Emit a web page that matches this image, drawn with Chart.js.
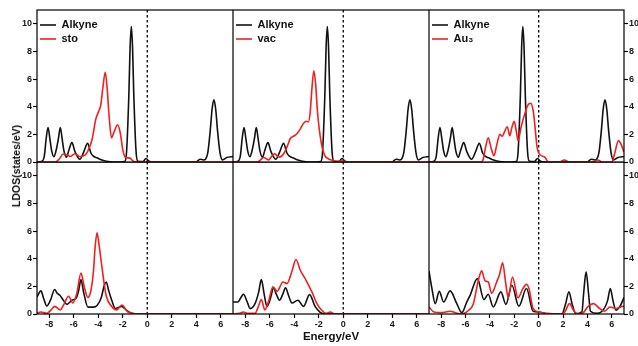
<!DOCTYPE html>
<html>
<head>
<meta charset="utf-8">
<script src="https://cdn.jsdelivr.net/npm/chart.js@4"></script>
<style>
  body { margin: 0; background: #fff; }
  #wrap { position: relative; width: 638px; height: 346px; overflow: hidden; background: #fff; }
  #wrap canvas { position: absolute; }
  #ylab {
    position: absolute; left: 16px; top: 166px;
    transform: translate(-50%, -50%) rotate(-90deg);
    font: bold 10.5px "Liberation Sans", Arial, sans-serif; color: #111; white-space: nowrap;
  }
</style>
</head>
<body>
<div id="wrap">
  <canvas id="c0" width="233" height="172" style="left:0;top:0"></canvas>
  <canvas id="c1" width="196" height="172" style="left:233px;top:0"></canvas>
  <canvas id="c2" width="209" height="172" style="left:429px;top:0"></canvas>
  <canvas id="c3" width="233" height="184" style="left:0;top:162px"></canvas>
  <canvas id="c4" width="196" height="184" style="left:233px;top:162px"></canvas>
  <canvas id="c5" width="209" height="184" style="left:429px;top:162px"></canvas>
  <div id="ylab">LDOS(states/eV)</div>
</div>
<script>
// tick labels shown on the axes
const energyTicks = [-8, -6, -4, -2, 0, 2, 4, 6];
const dosTicks = [0, 2, 4, 6, 8, 10];

// legend names
const blackName = 'Alkyne';
const redNames = ['sto', 'vac', 'Au\u2083'];

// [energy (eV), LDOS]
// top row: alkyne (same in all three panels)
const topAlkyne = [[-9,0],[-8.6,0.05],[-8.4,0.45],[-8.25,1.7],[-8.1,2.5],[-7.95,1.7],[-7.8,0.8],[-7.62,0.38],[-7.45,0.8],[-7.25,1.7],[-7.1,2.5],[-6.95,1.7],[-6.8,0.8],[-6.6,0.35],[-6.4,0.85],[-6.15,1.4],[-5.9,0.75],[-5.5,0.2],[-5.2,0.7],[-4.87,1.35],[-4.6,0.65],[-4.4,0.42],[-4.1,0.3],[-3.7,0.15],[-3.2,0.04],[-2.2,0],[-1.85,0.03],[-1.7,0.6],[-1.5,4.9],[-1.4,8.3],[-1.3,9.8],[-1.2,8.3],[-1.1,4.9],[-0.9,0.6],[-0.75,0.05],[-0.35,0.03],[-0.1,0.25],[0.15,0.05],[0.5,0],[4.0,0],[4.3,0.2],[4.6,0.15],[4.94,0.66],[5.14,2.25],[5.29,3.8],[5.44,4.5],[5.59,3.8],[5.74,2.25],[5.94,0.66],[6.14,0.15],[6.5,0.32],[7,0.4]];
const topSto = [[-9,0],[-7.5,0],[-7.2,0.2],[-6.85,0.58],[-6.5,0.5],[-6.3,0.4],[-5.9,0.6],[-5.5,0.4],[-5.3,0.42],[-4.97,0.6],[-4.7,1.1],[-4.5,1.65],[-4.2,3.1],[-3.95,3.7],[-3.8,4.1],[-3.62,5.4],[-3.43,6.5],[-3.28,5.4],[-3.12,3.4],[-2.92,1.75],[-2.7,2.2],[-2.42,2.7],[-2.2,2.1],[-2.0,0.9],[-1.8,0.35],[-1.6,0.3],[-1.4,0.28],[-1.2,0.1],[-1.0,0.02],[-0.6,0],[7,0]];
const topVac = [[-9,0],[-7.0,0],[-6.75,0.15],[-6.5,0.33],[-6.1,0.15],[-5.85,0.4],[-5.6,0.6],[-5.4,0.45],[-5.2,0.35],[-4.95,0.5],[-4.73,0.8],[-4.5,1.3],[-4.33,1.7],[-4.0,1.9],[-3.78,2.05],[-3.5,2.4],[-3.24,2.8],[-3.0,2.95],[-2.85,2.9],[-2.7,3.6],[-2.55,5.4],[-2.4,6.6],[-2.25,5.6],[-2.1,3.6],[-1.8,1.4],[-1.53,0.5],[-1.25,0.25],[-1.0,0.15],[-0.5,0.05],[-0.1,0.08],[0.3,0],[7,0]];
const topAu3 = [[-9,0],[-4.75,0],[-4.55,0.2],[-4.35,1.1],[-4.14,1.75],[-3.9,1.0],[-3.67,0.45],[-3.45,1.2],[-3.18,2.0],[-3.0,1.85],[-2.8,2.2],[-2.58,2.55],[-2.37,1.9],[-2.2,2.5],[-2.01,2.95],[-1.85,2.3],[-1.69,1.55],[-1.45,2.5],[-1.14,3.5],[-0.9,4.1],[-0.65,4.25],[-0.45,3.7],[-0.33,2.8],[-0.2,1.6],[-0.12,1.0],[0.08,0.55],[0.5,0.35],[0.8,0.02],[1.7,0],[2.1,0.15],[2.5,0],[4.4,0],[4.85,0.15],[5.2,0],[6.0,0],[6.2,0.5],[6.55,1.55],[6.8,1.2],[7,0.7]];

// bottom row
const botStoBlack = [[-9,1.23],[-8.68,1.67],[-8.45,1.1],[-8.2,0.58],[-7.9,1.0],[-7.56,1.77],[-7.35,1.5],[-7.15,1.37],[-6.85,1.0],[-6.56,0.7],[-6.15,1.0],[-5.8,1.15],[-5.6,1.7],[-5.41,2.49],[-5.2,1.6],[-4.84,0.5],[-4.4,0.5],[-4.1,0.62],[-3.75,1.2],[-3.5,2.1],[-3.35,2.32],[-3.15,1.7],[-2.9,1.0],[-2.6,0.4],[-2.1,0.55],[-1.66,0.25],[-1.25,0.05],[-0.8,0],[7,0]];
const botStoRed = [[-9,0.05],[-8.7,0.15],[-8.2,0.05],[-7.85,0.3],[-7.56,0.55],[-7.1,0.3],[-6.8,0.7],[-6.42,1.28],[-6.07,0.8],[-5.75,1.5],[-5.41,2.97],[-5.15,2.0],[-4.85,1.19],[-4.6,1.7],[-4.4,3.0],[-4.25,4.9],[-4.1,5.87],[-3.95,5.1],[-3.7,3.4],[-3.5,2.1],[-3.35,1.3],[-2.9,0.55],[-2.5,0.3],[-2.07,0.65],[-1.6,0.15],[-1.25,0.05],[-0.8,0],[7,0]];
const botVacBlack = [[-9,0.87],[-8.6,0.87],[-8.35,1.2],[-8.14,1.43],[-7.85,0.9],[-7.6,0.39],[-7.2,0.75],[-6.9,1.6],[-6.69,2.49],[-6.45,1.4],[-6.23,0.55],[-5.95,1.1],[-5.69,1.89],[-5.45,1.4],[-5.2,1.0],[-4.95,1.4],[-4.71,1.89],[-4.45,1.3],[-4.19,0.8],[-3.7,1.0],[-3.24,0.55],[-2.75,1.4],[-2.3,0.55],[-1.88,0.12],[-1.5,0],[7,0]];
const botVacRed = [[-9,0],[-8.5,0.05],[-8.14,0.15],[-7.8,0.05],[-7.2,0.05],[-6.95,0.5],[-6.69,1.04],[-6.4,0.3],[-6.1,0.9],[-5.74,1.96],[-5.4,1.65],[-4.92,2.32],[-4.6,2.2],[-4.19,3.1],[-3.86,3.94],[-3.5,3.15],[-3.1,2.55],[-2.56,1.6],[-2.15,0.75],[-1.75,0.27],[-1.4,0.05],[-1.06,0.15],[-0.7,0],[7,0]];
const botAu3Black = [[-9,3.1],[-8.76,1.84],[-8.49,0.75],[-8.16,1.64],[-7.8,0.87],[-7.27,1.67],[-6.72,0.75],[-6.31,0.1],[-5.9,0.87],[-5.63,1.35],[-5.03,2.56],[-4.49,1.04],[-4.14,1.43],[-3.73,0.51],[-3.1,1.6],[-2.69,0.7],[-2.2,2.08],[-1.63,0.56],[-1.0,1.84],[-0.46,0.2],[0,0.15],[0.4,0.08],[0.7,0],[1.9,0],[2.2,0.7],[2.48,1.6],[2.75,0.7],[3.05,0],[3.55,0.15],[3.69,1.5],[3.89,3.05],[4.09,1.5],[4.25,0.2],[4.8,0.05],[5.3,0.3],[5.65,0.95],[5.88,1.84],[6.1,0.95],[6.34,0.27],[6.7,0.6],[7,1.2]];
const botAu3Red = [[-9,0.51],[-8.6,0.15],[-8.0,0.1],[-7.27,0.2],[-6.72,0.05],[-6.31,0],[-5.77,0.25],[-5.36,0.75],[-4.95,2.44],[-4.68,3.12],[-4.4,2.4],[-4.14,2.32],[-3.86,1.5],[-3.45,2.32],[-3.2,2.9],[-2.96,3.7],[-2.7,2.2],[-2.5,1.18],[-2.15,2.68],[-1.7,1.18],[-1.3,1.84],[-1.0,2.15],[-0.8,1.84],[-0.46,0.4],[0,0.15],[0.7,0.05],[1.5,0],[2.1,0.1],[2.53,0.75],[2.9,0.2],[3.3,0.02],[3.6,0.05],[4.0,0.5],[4.49,0.75],[5.0,0.4],[5.4,0.2],[5.86,0.51],[6.34,0.4],[6.9,0.55],[7,0.55]];

const BLACK = '#111111';
const RED = '#ee2020';
const FONT = '"Liberation Sans", Arial, sans-serif';

// frame around each panel and the dotted Fermi level line
const framePlugin = {
  id: 'frame',
  beforeDatasetsDraw(chart) {
    const {ctx, chartArea: a, scales} = chart;
    const x0 = scales.x.getPixelForValue(0);
    ctx.save();
    ctx.strokeStyle = '#000';
    ctx.lineWidth = 1.3;
    ctx.setLineDash([2.5, 2.5]);
    ctx.beginPath();
    ctx.moveTo(x0, a.top);
    ctx.lineTo(x0, a.bottom);
    ctx.stroke();
    ctx.restore();
  },
  afterDatasetsDraw(chart) {
    const {ctx, chartArea: a} = chart;
    ctx.save();
    ctx.strokeStyle = '#000';
    ctx.lineWidth = 1.2;
    ctx.strokeRect(a.left, a.top, a.width, a.height);
    ctx.restore();
  }
};

function toXY(pairs) {
  return pairs.map(p => ({x: p[0], y: p[1]}));
}

function makePanel(id, col, row, black, red, redName) {
  const tickFont = {family: FONT, size: 9, weight: 'bold'};
  return new Chart(document.getElementById(id), {
    type: 'line',
    data: {
      datasets: [
        {label: blackName, data: toXY(black), borderColor: BLACK, backgroundColor: BLACK, borderWidth: 1.6, order: 1},
        {label: redName, data: toXY(red), borderColor: RED, backgroundColor: RED, borderWidth: 1.6, order: 0}
      ]
    },
    options: {
      responsive: false,
      animation: false,
      devicePixelRatio: 1,
      parsing: false,
      layout: {padding: row === 0 ? {top: 10, bottom: 10, left: 0, right: 0} : 0},
      elements: {
        line: {cubicInterpolationMode: 'monotone', fill: false},
        point: {radius: 0, hoverRadius: 0}
      },
      scales: {
        x: {
          type: 'linear', min: -9, max: 7,
          display: row === 1,
          ticks: {
            stepSize: 1, autoSkip: false, maxRotation: 0, padding: 1,
            font: tickFont, color: '#1a1a1a',
            callback: v => energyTicks.includes(v) ? String(v) : ''
          },
          grid: {
            drawOnChartArea: false, tickLength: 4, tickWidth: 1.2,
            tickColor: c => (c.tick && energyTicks.includes(c.tick.value)) ? '#000' : 'rgba(0,0,0,0)'
          },
          border: {display: false},
          title: {
            display: row === 1 && col === 1,
            text: 'Energy/eV',
            font: {family: FONT, size: 11.5, weight: 'bold'},
            color: '#111',
            padding: {top: 0, bottom: 2}
          },
          afterFit: s => {
            if (row === 1) s.height = 32;
            s.paddingLeft = 0; s.paddingRight = 0;
          }
        },
        y: {
          type: 'linear', min: 0, max: 11,
          position: col === 2 ? 'right' : 'left',
          display: col !== 1,
          ticks: {
            stepSize: 1, autoSkip: false, padding: 1,
            font: tickFont, color: '#1a1a1a',
            callback: v => dosTicks.includes(v) ? String(v) : ''
          },
          grid: {
            drawOnChartArea: false, tickLength: 4, tickWidth: 1.2,
            tickColor: c => (c.tick && dosTicks.includes(c.tick.value)) ? '#000' : 'rgba(0,0,0,0)'
          },
          border: {display: false},
          afterFit: s => {
            if (col === 0) s.width = 37;
            if (col === 2) s.width = 14;
            s.paddingTop = 0; s.paddingBottom = 0;
          }
        }
      },
      plugins: {
        tooltip: {enabled: false},
        legend: {
          display: row === 0,
          position: 'chartArea',
          align: 'start',
          title: {display: true, text: '', padding: {top: 15.5, bottom: 0}, font: {size: 1, lineHeight: 1}},
          labels: {
            usePointStyle: true, pointStyle: 'line', pointStyleWidth: 16,
            padding: 3, color: '#111',
            font: {family: FONT, size: 11, weight: 'bold'},
            sort: (a, b) => a.datasetIndex - b.datasetIndex
          }
        }
      }
    },
    plugins: [framePlugin]
  });
}

makePanel('c0', 0, 0, topAlkyne, topSto, redNames[0]);
makePanel('c1', 1, 0, topAlkyne, topVac, redNames[1]);
makePanel('c2', 2, 0, topAlkyne, topAu3, redNames[2]);
makePanel('c3', 0, 1, botStoBlack, botStoRed, redNames[0]);
makePanel('c4', 1, 1, botVacBlack, botVacRed, redNames[1]);
makePanel('c5', 2, 1, botAu3Black, botAu3Red, redNames[2]);
</script>
</body>
</html>
